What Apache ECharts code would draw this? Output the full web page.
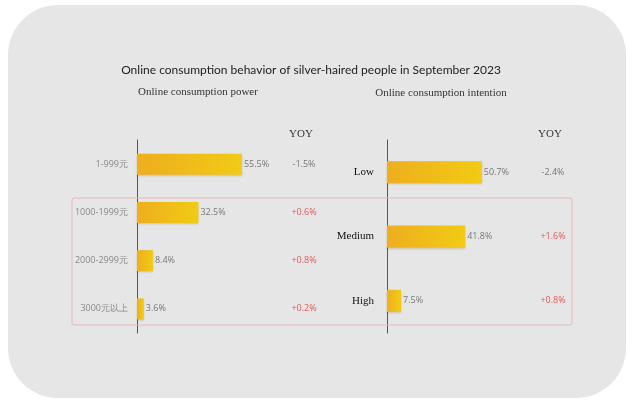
<!DOCTYPE html>
<html>
<head>
<meta charset="utf-8">
<script src="https://cdn.jsdelivr.net/npm/echarts@6/dist/echarts.min.js"></script>
<style>
  html, body { margin: 0; padding: 0; background: #ffffff; }
  #chart { width: 627px; height: 400px; }
</style>
</head>
<body>
<div id="chart"></div>
<script>
// Spending power (left panel)
const powerCategories = ['1-999元', '1000-1999元', '2000-2999元', '3000元以上'];
const powerShare = [55.5, 32.5, 8.4, 3.6];
const powerYoy = ['-1.5%', '+0.6%', '+0.8%', '+0.2%'];

// Spending intention (right panel)
const intentCategories = ['Low', 'Medium', 'High'];
const intentShare = [50.7, 41.8, 7.5];
const intentYoy = ['-2.4%', '+1.6%', '+0.8%'];

const titleText = 'Online consumption behavior of silver-haired people in September 2023';
const leftSubtitle = 'Online consumption power';
const rightSubtitle = 'Online consumption intention';
const yoyHeader = 'YOY';

const chart = echarts.init(document.getElementById('chart'), null, { renderer: 'canvas' });

const barColor = new echarts.graphic.LinearGradient(0, 0, 1, 0, [
  { offset: 0, color: '#eeae1e' },
  { offset: 1, color: '#f1cb14' }
]);

const yoyColor = (v) => (String(v).charAt(0) === '-' ? '#777777' : '#e05a5a');

function barSeries(idx, data, width) {
  return {
    type: 'bar',
    xAxisIndex: idx,
    yAxisIndex: idx * 2,
    data: data,
    barWidth: width,
    itemStyle: {
      color: barColor,
      shadowColor: 'rgba(120,80,0,0.25)',
      shadowBlur: 2,
      shadowOffsetY: 1
    },
    label: {
      show: true,
      position: 'right',
      distance: 2,
      formatter: '{c}%',
      color: '#777777',
      fontFamily: 'Open Sans',
      fontSize: 9
    },
    silent: true
  };
}

function textTitle(text, x, y, family, size, color) {
  return {
    text: text, left: x, top: y, padding: 0, textAlign: 'center',
    textStyle: { fontFamily: family, fontSize: size, fontWeight: 'normal', color: color }
  };
}

const option = {
  backgroundColor: '#ffffff',
  animation: false,
  graphic: [
    {
      type: 'rect',
      z: -10,
      shape: { x: 8, y: 5, width: 618, height: 393, r: 50 },
      style: { fill: '#e6e6e6' }
    },
    {
      type: 'rect',
      z: 10,
      shape: { x: 72, y: 198, width: 500, height: 127, r: 2 },
      style: { fill: 'none', stroke: '#e6b8b6', lineWidth: 1 }
    }
  ],
  title: [
    textTitle(titleText, 311, 64, 'Lato', 12, '#222222'),
    textTitle(leftSubtitle, 198, 87, 'Liberation Serif', 11, '#333333'),
    textTitle(rightSubtitle, 441, 88, 'Liberation Serif', 11, '#333333'),
    textTitle(yoyHeader, 301, 129, 'Liberation Serif', 11, '#333333'),
    textTitle(yoyHeader, 550, 129, 'Liberation Serif', 11, '#333333')
  ],
  grid: [
    { left: 137, top: 140, width: 189, height: 193 },
    { left: 387, top: 140, width: 187, height: 193 }
  ],
  xAxis: [
    { gridIndex: 0, type: 'value', min: 0, max: 100, show: false },
    { gridIndex: 1, type: 'value', min: 0, max: 100, show: false }
  ],
  yAxis: [
    {
      gridIndex: 0, type: 'category', inverse: true, data: powerCategories,
      axisLine: { show: true, lineStyle: { color: '#555555', width: 1 } },
      axisTick: { show: false },
      axisLabel: { margin: 9, color: '#888888', fontFamily: 'Open Sans', fontSize: 9 }
    },
    {
      gridIndex: 0, type: 'category', inverse: true, data: powerYoy, position: 'right', offset: -22,
      axisLine: { show: false }, axisTick: { show: false },
      axisLabel: { margin: 0, align: 'center', fontFamily: 'Open Sans', fontSize: 9, color: yoyColor }
    },
    {
      gridIndex: 1, type: 'category', inverse: true, data: intentCategories,
      axisLine: { show: true, lineStyle: { color: '#555555', width: 1 } },
      axisTick: { show: false },
      axisLabel: { margin: 13, color: '#111111', fontFamily: 'Liberation Serif', fontSize: 11 }
    },
    {
      gridIndex: 1, type: 'category', inverse: true, data: intentYoy, position: 'right', offset: -21,
      axisLine: { show: false }, axisTick: { show: false },
      axisLabel: { margin: 0, align: 'center', fontFamily: 'Open Sans', fontSize: 9, color: yoyColor }
    }
  ],
  series: [
    barSeries(0, powerShare, 21),
    barSeries(1, intentShare, 22)
  ]
};

chart.setOption(option);
</script>
</body>
</html>
